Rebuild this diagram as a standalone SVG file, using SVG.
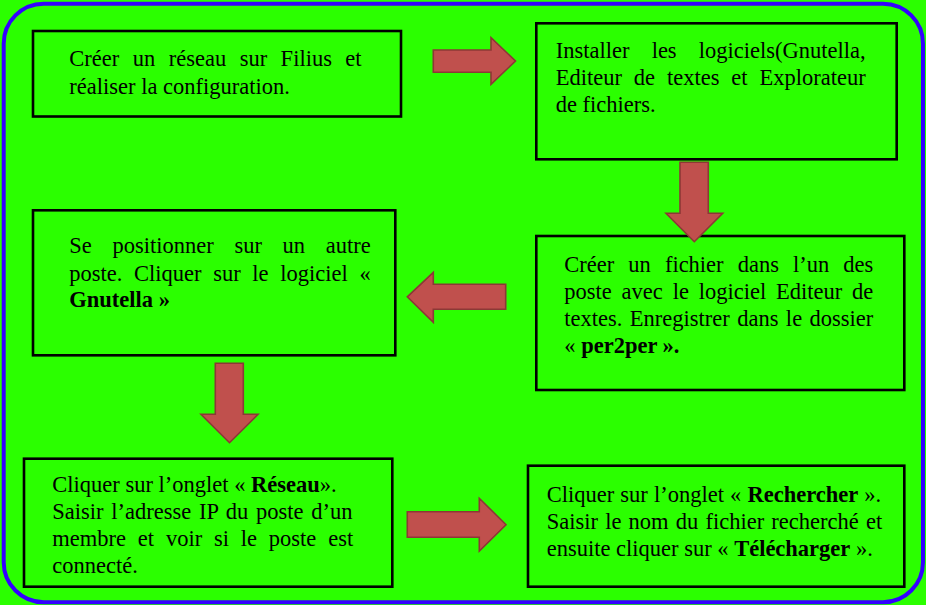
<svg xmlns="http://www.w3.org/2000/svg" width="926" height="605" viewBox="0 0 926 605">
<style>
.bg{fill:#2BFF00}
.frame{fill:#2BFF00;stroke:#3300FF;stroke-width:4}
.box{fill:#2BFF00;stroke:#000;stroke-width:2.6}
.t{font-family:"Liberation Serif","Times New Roman",serif;font-size:22.5px;fill:#000}
.b{font-weight:bold}
.arrow{fill:#C0504D;stroke:#8C3836;stroke-width:1.6;stroke-linejoin:miter}
</style>
<rect class="bg" x="0" y="0" width="926" height="605"/>
<rect class="frame" x="3.7" y="3.7" width="919.3" height="598.5" rx="40" ry="40"/>

<g id="node1">
<rect class="box" x="33" y="31" width="368" height="85.5"/>
<text class="t" x="69.3" y="66" style="word-spacing:7.85px">Créer un réseau sur Filius et</text>
<text class="t" x="69.3" y="93.5">réaliser la configuration.</text>
</g>

<g id="node2">
<rect class="box" x="536.3" y="23.3" width="360.4" height="136"/>
<text class="t" x="555.7" y="58.3" style="word-spacing:16.6px">Installer les logiciels(Gnutella,</text>
<text class="t" x="555.7" y="85" style="word-spacing:6.28px">Editeur de textes et Explorateur</text>
<text class="t" x="555.7" y="111.7">de fichiers.</text>
</g>

<g id="node3">
<rect class="box" x="33" y="210.3" width="362.3" height="145"/>
<text class="t" x="69.3" y="253.3" style="word-spacing:15.05px">Se positionner sur un autre</text>
<text class="t" x="69.3" y="280.5" style="word-spacing:6.03px">poste. Cliquer sur le logiciel «</text>
<text class="t b" x="69.3" y="307.3">Gnutella »</text>
</g>

<g id="node4">
<rect class="box" x="536.3" y="236" width="368" height="154"/>
<text class="t" x="564.3" y="271.7" style="word-spacing:8.44px">Créer un fichier dans l’un des</text>
<text class="t" x="564.3" y="299" style="word-spacing:4.2px">poste avec le logiciel Editeur de</text>
<text class="t" x="564.3" y="326" style="word-spacing:1.8px">textes. Enregistrer dans le dossier</text>
<text class="t" x="564.3" y="352.7">« <tspan class="b">per2per ».</tspan></text>
</g>

<g id="node5">
<rect class="box" x="24" y="458.7" width="368.3" height="128"/>
<text class="t" x="52.3" y="492.3">Cliquer sur l’onglet « <tspan class="b">Réseau</tspan>».</text>
<text class="t" x="52.3" y="519" style="word-spacing:2.07px">Saisir l’adresse IP du poste d’un</text>
<text class="t" x="52.3" y="546.3" style="word-spacing:6.2px">membre et voir si le poste est</text>
<text class="t" x="52.3" y="573.3">connecté.</text>
</g>

<g id="node6">
<rect class="box" x="528" y="465.7" width="376.3" height="121"/>
<text class="t" x="546.7" y="501.7" style="word-spacing:0.5px">Cliquer sur l’onglet « <tspan class="b">Rechercher</tspan> ».</text>
<text class="t" x="546.7" y="529" style="word-spacing:1.57px">Saisir le nom du fichier recherché et</text>
<text class="t" x="546.7" y="556">ensuite cliquer sur « <tspan class="b">Télécharger</tspan> ».</text>
</g>

<g id="connectors">
<polygon class="arrow" points="433.3,50 491,50 491,37.7 515.5,61 491,84.3 491,72.3 433.3,72.3"/>
<polygon class="arrow" points="680,162.3 708.3,162.3 708.3,213.3 722.7,213.3 694.3,241.7 666,213.3 680,213.3"/>
<polygon class="arrow" points="505.7,284.3 433.3,284.3 433.3,272.3 407.3,296.8 433.3,322.3 433.3,309.3 505.7,309.3"/>
<polygon class="arrow" points="215.3,363.3 243.3,363.3 243.3,414.3 258,414.3 229.5,442.7 201,414.3 215.3,414.3"/>
<polygon class="arrow" points="407.3,511.7 479.3,511.7 479.3,498.3 506,524.7 479.3,551 479.3,537.3 407.3,537.3"/>
</g>
</svg>
